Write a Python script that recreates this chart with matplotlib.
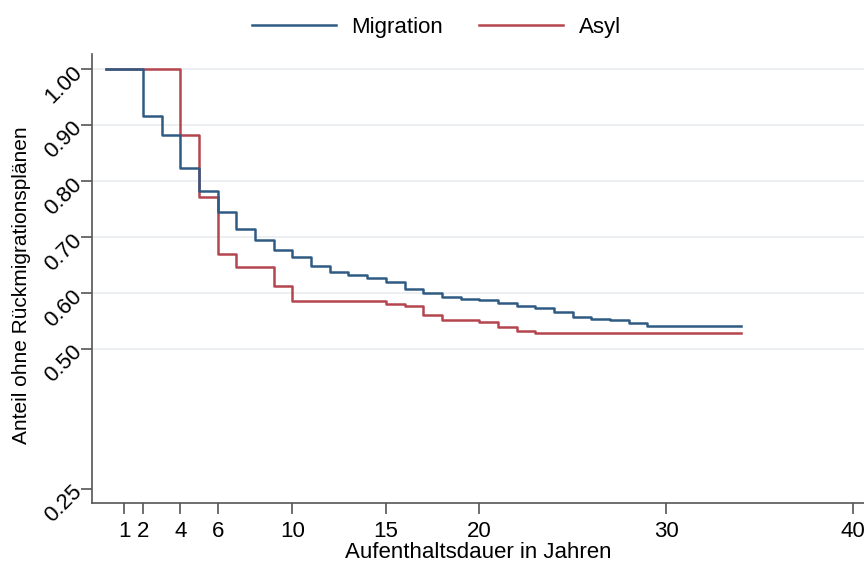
import matplotlib
matplotlib.use("Agg")
import matplotlib.pyplot as plt

plt.rcParams["font.family"] = ["Liberation Sans", "DejaVu Sans"]

# Kaplan-Meier step values (year where each level starts)
mig_years = [0, 2, 3, 4, 5, 6, 7, 8, 9, 10, 11, 12, 13, 14, 15, 16, 17, 18,
             19, 20, 21, 22, 23, 24, 25, 26, 27, 28, 29, 34]
mig_surv = [1.000, 0.916, 0.883, 0.824, 0.782, 0.745, 0.714, 0.694, 0.677,
            0.664, 0.649, 0.637, 0.632, 0.626, 0.619, 0.607, 0.600, 0.593,
            0.589, 0.587, 0.582, 0.576, 0.573, 0.566, 0.558, 0.554, 0.551,
            0.547, 0.542, 0.542]

asyl_years = [0, 4, 5, 6, 7, 9, 10, 15, 16, 17, 18, 20, 21, 22, 23, 34]
asyl_surv = [1.000, 0.883, 0.771, 0.670, 0.646, 0.613, 0.585, 0.580, 0.576,
             0.561, 0.552, 0.548, 0.540, 0.532, 0.528, 0.528]

x_ticks = [1, 2, 4, 6, 10, 15, 20, 30, 40]
y_ticks = [0.25, 0.50, 0.60, 0.70, 0.80, 0.90, 1.00]
y_grid = [0.50, 0.60, 0.70, 0.80, 0.90, 1.00]

fs = 16

fig = plt.figure(figsize=(8.64, 5.64), dpi=100)
ax = fig.add_axes([0.1061, 0.1087, 0.8939, 0.7956])

for y in y_grid:
    ax.axhline(y, color="#eaeef0", lw=1.2, zorder=0)

ax.step(mig_years, mig_surv, where="post", color="#2f5b82", lw=1.8,
        label="Migration", zorder=3)
ax.step(asyl_years, asyl_surv, where="post", color="#b4454f", lw=1.8,
        label="Asyl", zorder=2)

ax.set_xlim(-0.75, 40.6)
ax.set_ylim(0.2255, 1.027)

ax.set_xticks(x_ticks)
ax.set_xticklabels([str(t) for t in x_ticks], fontsize=fs)
ax.set_yticks(y_ticks)
ax.set_yticklabels([f"{t:.2f}" for t in y_ticks], fontsize=fs, rotation=45,
                   ha="right", va="center", rotation_mode="anchor")
ax.tick_params(axis="both", direction="out", length=8, width=1.2,
               color="#555555", pad=1)
ax.tick_params(axis="x", pad=5)

for side in ["top", "right"]:
    ax.spines[side].set_visible(False)
for side in ["left", "bottom"]:
    ax.spines[side].set_color("#555555")
    ax.spines[side].set_linewidth(1.2)

ax.set_xlabel("Aufenthaltsdauer in Jahren", fontsize=fs)
ax.xaxis.set_label_coords(0.5, -0.087)
ax.set_ylabel("Anteil ohne Rückmigrationsplänen", fontsize=15)
ax.yaxis.set_label_coords(-0.079, 0.485)

fig.legend(loc="upper center", bbox_to_anchor=(0.505, 1.005), ncol=2,
           frameon=False, fontsize=fs, handlelength=3.8, columnspacing=1.6,
           handletextpad=0.7)

fig.savefig("out.png", dpi=100)
